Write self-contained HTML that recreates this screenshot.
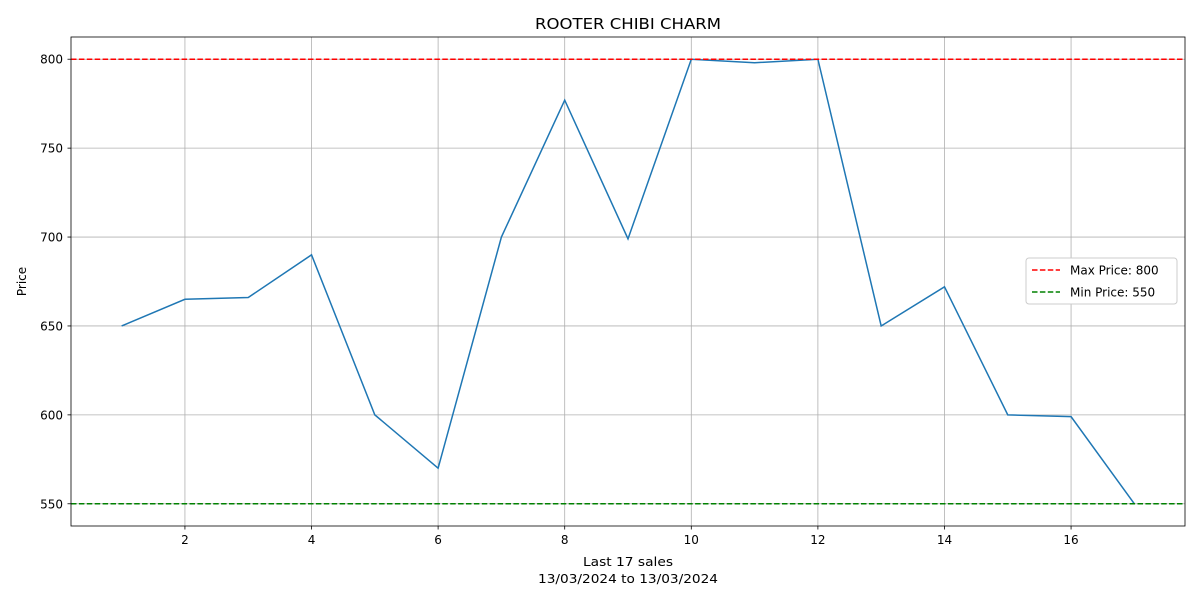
<!DOCTYPE html>
<html><head><meta charset="utf-8"><style>
body{margin:0;background:#fff;font-family:"Liberation Sans","DejaVu Sans",sans-serif;}
svg text{font-family:"DejaVu Sans","Liberation Sans",sans-serif;}
</style></head><body>
<svg id="c" width="1200" height="600" xmlns="http://www.w3.org/2000/svg"></svg>
<script>
const sales=[1,2,3,4,5,6,7,8,9,10,11,12,13,14,15,16,17];
const prices=[650,665,666,690,600,570,700,777,699,800,798,800,650,672,600,599,550];
const xTicks=[2,4,6,8,10,12,14,16];
const yTicks=[550,600,650,700,750,800];
const maxPrice=800, minPrice=550;
const L=71,R=1185,T=37,B=526;
const x0=0.2,x1=17.8,y0=537.5,y1=812.5;
const sx=v=>L+(v-x0)/(x1-x0)*(R-L);
const sy=v=>B-(v-y0)/(y1-y0)*(B-T);
const svg=document.getElementById('c');
const NS='http://www.w3.org/2000/svg';
function mk(tag,attrs,txt){const e=document.createElementNS(NS,tag);for(const k in attrs)e.setAttribute(k,attrs[k]);if(txt!==undefined)e.textContent=txt;svg.appendChild(e);return e;}
xTicks.forEach(t=>{
 const g=mk('line',{x1:sx(t),x2:sx(t),y1:T,y2:B,stroke:'#b0b0b0','stroke-width':0.8});
 
 
 mk('line',{x1:sx(t),x2:sx(t),y1:B,y2:B+3.5,stroke:'#000','stroke-width':0.8});
 const lb=mk('text',{x:sx(t),y:B+18,'font-size':12,'text-anchor':'middle'},t);
 
 
});
yTicks.forEach(t=>{
 const g=mk('line',{x1:L,x2:R,y1:sy(t),y2:sy(t),stroke:'#b0b0b0','stroke-width':0.8});
 
 
 mk('line',{x1:L-3.5,x2:L,y1:sy(t),y2:sy(t),stroke:'#000','stroke-width':0.8});
 const lb=mk('text',{x:L-8,y:sy(t)+4.5,'font-size':12,'text-anchor':'end'},t);
 
 
});
const pts=sales.map((s,i)=>sx(s)+','+sy(prices[i])).join(' ');
const line=mk('polyline',{points:pts,fill:'none',stroke:'#1f77b4','stroke-width':1.5});


const mx=mk('line',{x1:L,x2:R,y1:sy(maxPrice),y2:sy(maxPrice),stroke:'#ff0000','stroke-width':1.5,'stroke-dasharray':'5.5,2.4'});


const mn=mk('line',{x1:L,x2:R,y1:sy(minPrice),y2:sy(minPrice),stroke:'#008000','stroke-width':1.5,'stroke-dasharray':'5.5,2.4'});


mk('rect',{x:L,y:T,width:R-L,height:B-T,fill:'none',stroke:'#000','stroke-width':0.8});
const title=mk('text',{x:(L+R)/2,y:29,'font-size':15,'text-anchor':'middle',textLength:186,lengthAdjust:'spacingAndGlyphs'},'ROOTER CHIBI CHARM');


const xt=mk('text',{x:(L+R)/2,y:566,'font-size':12,'text-anchor':'middle',textLength:90,lengthAdjust:'spacingAndGlyphs'},'Last 17 sales');


const xs=mk('text',{x:(L+R)/2,y:583,'font-size':12,'text-anchor':'middle',textLength:180,lengthAdjust:'spacingAndGlyphs'},'13/03/2024 to 13/03/2024');


const yt=mk('text',{x:26,y:(T+B)/2,'font-size':12,'text-anchor':'middle',transform:'rotate(-90 26 '+(T+B)/2+')'},'Price');


const lg=mk('rect',{x:1026,y:258,width:151,height:46,fill:'#fff',stroke:'#ccc','stroke-width':1,rx:3});


mk('line',{x1:1032,x2:1060,y1:270,y2:270,stroke:'#ff0000','stroke-width':1.5,'stroke-dasharray':'5.5,2.4'});
const l1=mk('text',{x:1070,y:274.5,'font-size':12},'Max Price: 800');


mk('line',{x1:1032,x2:1060,y1:292,y2:292,stroke:'#008000','stroke-width':1.5,'stroke-dasharray':'5.5,2.4'});
const l2=mk('text',{x:1070,y:296.5,'font-size':12},'Min Price: 550');


</script>
</body></html>
